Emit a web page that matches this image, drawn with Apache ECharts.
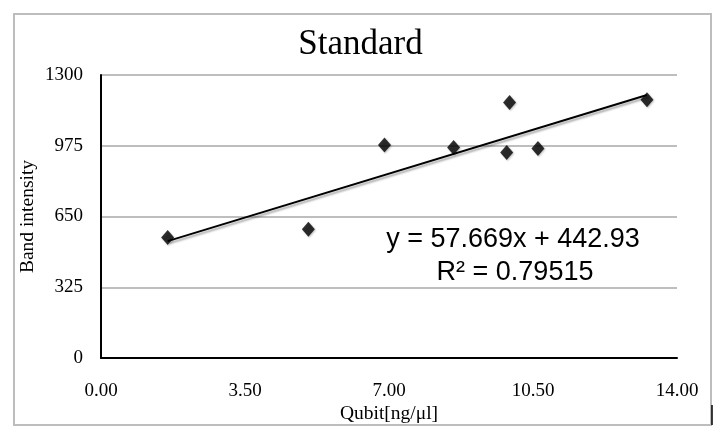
<!DOCTYPE html>
<html><head><meta charset="utf-8">
<script src="https://cdn.jsdelivr.net/npm/echarts@6/dist/echarts.min.js"></script>
<style>html,body{margin:0;padding:0;background:#fff}#c{width:721px;height:439px}</style>
</head><body><div id="c"></div>
<script>
const qubit = [1.62, 5.04, 6.89, 8.57, 9.93, 9.86, 10.62, 13.27];
const intensity = [553, 591, 978, 967, 1174, 944, 962, 1186];
const trendX = [1.62, 13.27];
const trendY = [537, 1208];
const xTicks = [0, 3.5, 7, 10.5, 14];
const yTicks = [0, 325, 650, 975, 1300];
const titleText = 'Standard';
const eqText = 'y = 57.669x + 442.93';
const r2Text = 'R² = 0.79515';

const chart = echarts.init(document.getElementById('c'));
const serif = '"Liberation Serif", "Times New Roman", serif';
chart.setOption({
  animation: false,
  title: { text: titleText, left: 'center', top: 22,
    textStyle: { fontFamily: serif, fontWeight: 'normal', fontSize: 35, color: '#000' } },
  grid: { left: 101, right: 44, top: 75, bottom: 81 },
  xAxis: {
    type: 'value', min: xTicks[0], max: xTicks[xTicks.length-1], interval: 3.5,
    name: 'Qubit[ng/μl]', nameLocation: 'middle', nameGap: 46, nameMoveOverlap: false,
    nameTextStyle: { fontFamily: serif, fontSize: 19.5, color: '#000' },
    axisLine: { show: true, onZero: false, lineStyle: { color: '#000', width: 2 } },
    axisTick: { show: false },
    splitLine: { show: false },
    axisLabel: { margin: 24, fontFamily: serif, fontSize: 19, color: '#000',
      formatter: v => v.toFixed(2) }
  },
  yAxis: {
    type: 'value', min: yTicks[0], max: yTicks[yTicks.length-1], interval: 325,
    name: 'Band intensity', nameLocation: 'middle', nameGap: 63, nameMoveOverlap: false,
    nameTextStyle: { fontFamily: serif, fontSize: 19.5, color: '#000' },
    axisLine: { show: true, lineStyle: { color: '#000', width: 2 } },
    axisTick: { show: false },
    splitLine: { lineStyle: { color: '#a8a8a8', width: 1.5 } },
    axisLabel: { margin: 18, fontFamily: serif, fontSize: 19, color: '#000',
      formatter: v => String(v) }
  },
  series: [
    { type: 'line', data: trendX.map((x, i) => [x, trendY[i]]), symbol: 'none',
      lineStyle: { color: '#000', width: 2, shadowColor: 'rgba(0,0,0,0.35)', shadowBlur: 2, shadowOffsetX: 2, shadowOffsetY: 2 },
      z: 3 },
    { type: 'scatter', data: qubit.map((x, i) => [x, intensity[i]]), symbol: 'diamond', symbolSize: [13, 15],
      itemStyle: { color: '#000', shadowColor: 'rgba(0,0,0,0.3)', shadowBlur: 2, shadowOffsetX: 1, shadowOffsetY: 1 }, z: 4 }
  ],
  graphic: [
    { type: 'rect', shape: { x: 14, y: 14, width: 697, height: 411 },
      style: { fill: 'none', stroke: '#bdbdbd', lineWidth: 2 }, z: -1 },
    { type: 'line', shape: { x1: 712, y1: 405, x2: 712, y2: 425 },
      style: { stroke: '#000', lineWidth: 1.5 }, z: -1 },
    { type: 'text', x: 513, y: 240, style: { text: eqText, textAlign: 'center', textVerticalAlign: 'middle',
      font: '27px "Liberation Sans", Arial, sans-serif', fill: '#000' }, z: 10 },
    { type: 'text', x: 515, y: 273, style: { text: r2Text, textAlign: 'center', textVerticalAlign: 'middle',
      font: '27px "Liberation Sans", Arial, sans-serif', fill: '#000' }, z: 10 }
  ]
});
</script></body></html>
